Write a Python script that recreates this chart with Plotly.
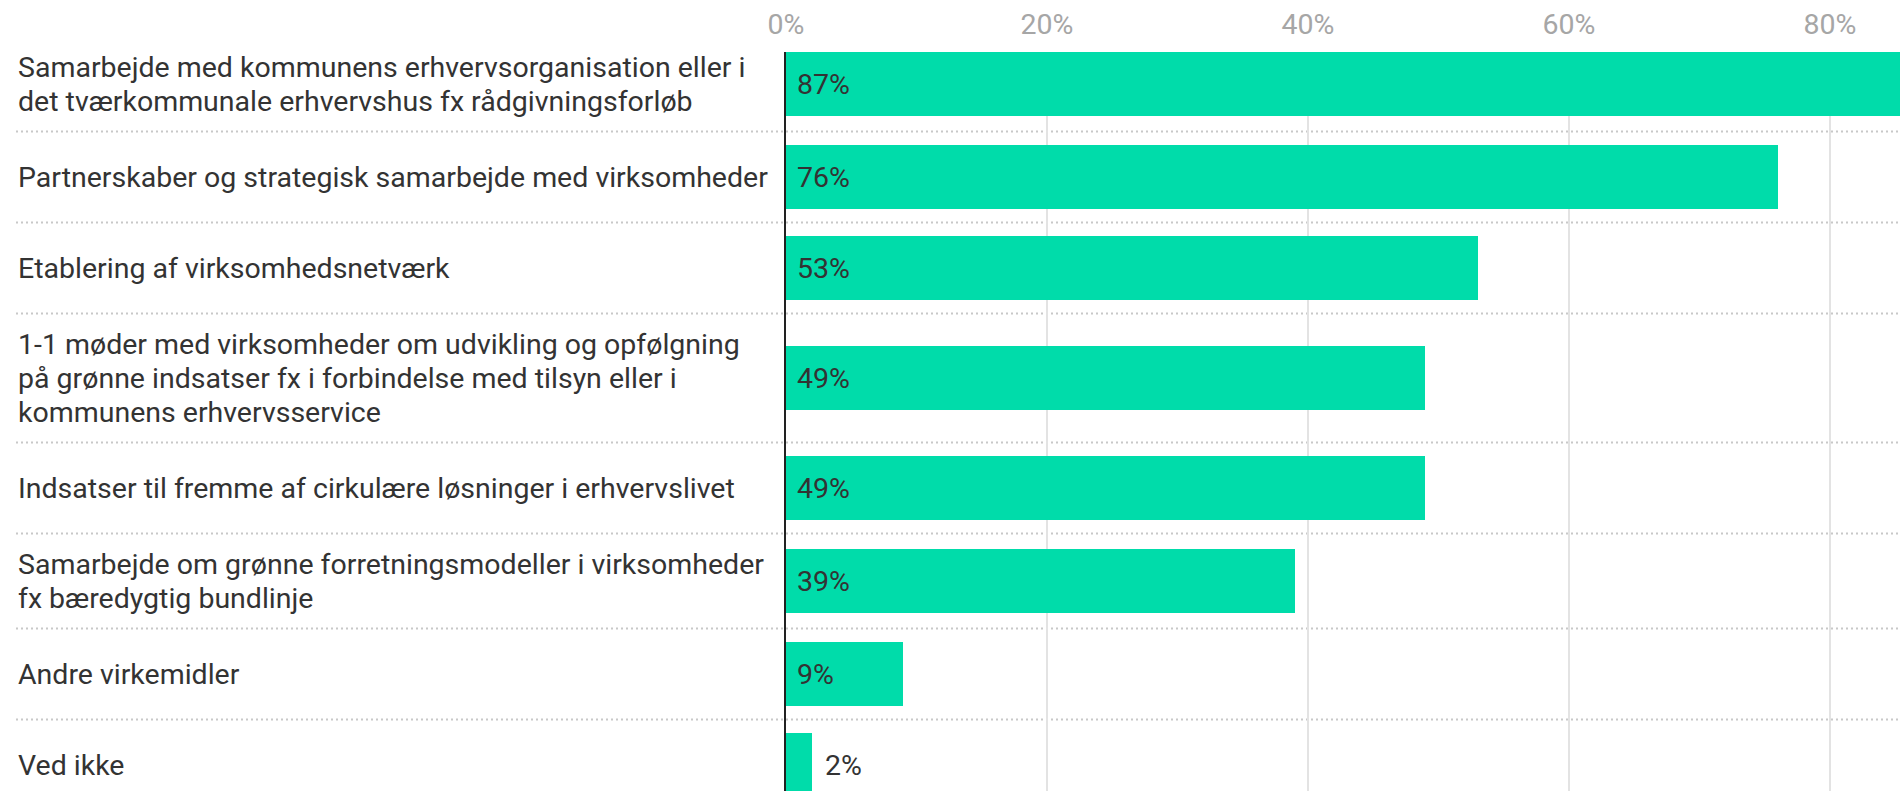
import plotly.graph_objects as go

# survey answers (share of respondents, %)
LABEL_LINES = [
    ["Samarbejde med kommunens erhvervsorganisation eller i",
     "det tværkommunale erhvervshus fx rådgivningsforløb"],
    ["Partnerskaber og strategisk samarbejde med virksomheder"],
    ["Etablering af virksomhedsnetværk"],
    ["1-1 møder med virksomheder om udvikling og opfølgning",
     "på grønne indsatser fx i forbindelse med tilsyn eller i",
     "kommunens erhvervsservice"],
    ["Indsatser til fremme af cirkulære løsninger i erhvervslivet"],
    ["Samarbejde om grønne forretningsmodeller i virksomheder",
     "fx bæredygtig bundlinje"],
    ["Andre virkemidler"],
    ["Ved ikke"],
]
VALUES = [87, 76, 53, 49, 49, 39, 9, 2]
TICKS = [0, 20, 40, 60, 80]

BAR_COLOR = "#00dcaa"
TEXT_COLOR = "#333333"
FONT = "Roboto"
FONT_SIZE = 28.5

W, H = 1900, 791
PLOT_LEFT = 786
PLOT_TOP = 52
LABEL_LEFT = 16
PX_PER_PCT = 13.05

# row layout (y axis is in pixel units, 1 unit = 1 px)
BAR_PX = 64
LINE_PX = 34
PAD_PX = 27

row_heights = [max(BAR_PX, len(l) * LINE_PX) + PAD_PX for l in LABEL_LINES]
bounds = [0]
for h in row_heights:
    bounds.append(bounds[-1] + h)
centers = [(a + b) / 2 for a, b in zip(bounds[:-1], bounds[1:])]

y_top = centers[0] - BAR_PX / 2
plot_h = H - PLOT_TOP
plot_w = W - PLOT_LEFT
x_max = plot_w / PX_PER_PCT
label_x = -(PLOT_LEFT - LABEL_LEFT) / plot_w

fig = go.Figure(
    go.Bar(
        x=VALUES,
        y=centers,
        orientation="h",
        width=BAR_PX,
        marker=dict(color=BAR_COLOR, line=dict(width=0)),
        hoverinfo="skip",
    )
)

label_font = dict(family=FONT, size=FONT_SIZE, color=TEXT_COLOR)
annotations = []
for lines, c, v in zip(LABEL_LINES, centers, VALUES):
    # one annotation per line so the line spacing can be set
    n = len(lines)
    for i, line in enumerate(lines):
        annotations.append(dict(
            x=label_x, xref="paper", y=c + (i - (n - 1) / 2) * LINE_PX, yref="y",
            text=line, showarrow=False,
            xanchor="left", yanchor="middle", align="left",
            font=label_font,
        ))
    inside = v >= 5
    annotations.append(dict(
        x=0 if inside else v, y=c, xref="x", yref="y",
        text=f"{v}%", showarrow=False,
        xanchor="left", yanchor="middle", xshift=9 if inside else 11,
        font=label_font,
    ))

shapes = []
for b in bounds[1:]:
    shapes.append(dict(
        type="line", xref="paper", yref="y",
        x0=label_x, x1=1, y0=b, y1=b,
        line=dict(color="#c8c8c8", width=2, dash="2px,3px"),
        layer="below",
    ))

fig.update_layout(
    width=W,
    height=H,
    margin=dict(l=PLOT_LEFT, r=0, t=PLOT_TOP, b=0, pad=0),
    paper_bgcolor="white",
    plot_bgcolor="white",
    showlegend=False,
    bargap=0,
    annotations=annotations,
    shapes=shapes,
    font=dict(family=FONT, size=FONT_SIZE, color=TEXT_COLOR),
)
fig.update_xaxes(
    range=[0, x_max],
    side="top",
    tickvals=TICKS,
    ticktext=[f"{t}%" for t in TICKS],
    tickfont=dict(family=FONT, size=FONT_SIZE, color="#a6a6a6"),
    ticks="",
    ticklabelstandoff=11,
    showgrid=True,
    gridcolor="#e3e3e3",
    gridwidth=2,
    zeroline=False,
    showline=False,
    fixedrange=True,
)
fig.update_yaxes(
    range=[y_top + plot_h, y_top],
    showticklabels=False,
    showgrid=False,
    zeroline=False,
    showline=True,
    linecolor="#222222",
    linewidth=2,
    ticks="",
    fixedrange=True,
)

fig.write_html(
    "out.html",
    config={"displayModeBar": False},
    post_script="document.body.style.margin='0';",
)
